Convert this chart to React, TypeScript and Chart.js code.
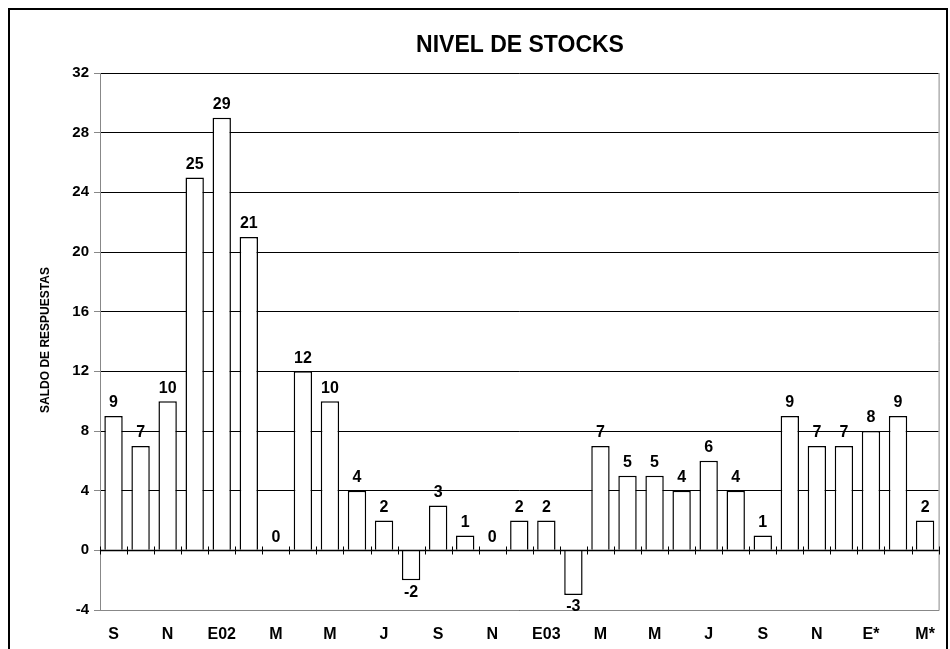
import React, { useEffect, useRef } from "react";
import { Chart, registerables } from "chart.js";
Chart.register(...registerables);

const categories = ["S","O","N","D","E02","F","M","A","M","J","J","A","S","O","N","D","E03","F","M","A","M","J","J","A","S","O","N","D","E*","F","M*"];
const values = [9,7,10,25,29,21,0,12,10,4,2,-2,3,1,0,2,2,-3,7,5,5,4,6,4,1,9,7,7,8,9,2];
const shownLabels = new Set([0,2,4,6,8,10,12,14,16,18,20,22,24,26,28,30]);
const title = "NIVEL DE STOCKS";
const yTitle = "SALDO DE RESPUESTAS";

const F = "Arial, 'Liberation Sans', sans-serif";

const deco = {
  id: "deco",
  afterDraw(chart: any) {
    const { ctx, chartArea: a, scales } = chart;
    const x = scales.x, y = scales.y;
    ctx.save();
    ctx.strokeStyle = "#000"; ctx.lineWidth = 2;
    ctx.beginPath(); ctx.moveTo(9, 660); ctx.lineTo(9, 9); ctx.lineTo(947, 9); ctx.lineTo(947, 660); ctx.stroke();
    ctx.strokeStyle = "#888"; ctx.lineWidth = 1;
    ctx.beginPath(); ctx.moveTo(a.left, a.bottom + 0.5); ctx.lineTo(a.right + 0.5, a.bottom + 0.5); ctx.lineTo(a.right + 0.5, a.top); ctx.stroke();
    const z = Math.round(y.getPixelForValue(0)) + 0.5;
    ctx.strokeStyle = "#000"; ctx.lineWidth = 1.5;
    ctx.beginPath(); ctx.moveTo(a.left, z); ctx.lineTo(a.right, z); ctx.stroke();
    ctx.lineWidth = 1;
    const step = x.getPixelForValue(1) - x.getPixelForValue(0);
    for (let i = 0; i <= categories.length; i++) {
      const px = Math.round(x.getPixelForValue(i) - step / 2) + 0.5;
      ctx.beginPath(); ctx.moveTo(px, z - 4); ctx.lineTo(px, z + 4); ctx.stroke();
    }
    ctx.fillStyle = "#000"; ctx.font = `bold 16px ${F}`; ctx.textAlign = "center";
    values.forEach((v, i) => {
      const px = x.getPixelForValue(i);
      if (v >= 0) { ctx.textBaseline = "bottom"; ctx.fillText(String(v), px, y.getPixelForValue(v) - 5); }
      else { ctx.textBaseline = "top"; ctx.fillText(String(v), px, y.getPixelForValue(v) + 4); }
    });
    ctx.font = `bold 23px ${F}`; ctx.textBaseline = "middle";
    ctx.fillText(title, 520, 46);
    ctx.translate(46, 340); ctx.rotate(-Math.PI / 2);
    ctx.font = `bold 12px ${F}`;
    ctx.fillText(yTitle, 0, 0);
    ctx.restore();
  },
};

export default function App() {
  const ref = useRef<HTMLCanvasElement>(null);
  useEffect(() => {
    const chart = new Chart(ref.current!, {
      type: "bar",
      data: {
        labels: categories,
        datasets: [{ data: values, backgroundColor: "#fff", borderColor: "#000", borderWidth: 1.5, categoryPercentage: 0.68, barPercentage: 1 }],
      },
      options: {
        animation: false, responsive: false, devicePixelRatio: 1,
        layout: { padding: { top: 73, right: 9, left: 0, bottom: 0 } },
        plugins: { legend: { display: false }, tooltip: { enabled: false } },
        scales: {
          x: {
            grid: { display: false, drawTicks: false },
            border: { display: false },
            afterFit: (s: any) => { s.height = 39; },
            ticks: {
              autoSkip: false, maxRotation: 0, padding: 15, color: "#000",
              font: { family: F, size: 16, weight: "bold" },
              callback: (_v: any, i: number) => (shownLabels.has(i) ? categories[i] : ""),
            },
          },
          y: {
            min: -4, max: 32,
            afterFit: (s: any) => { s.width = 100; },
            grid: { color: "#000", lineWidth: 1, drawTicks: true, tickLength: 6, tickColor: "#888" },
            border: { color: "#888" },
            ticks: { stepSize: 4, padding: 5, color: "#000", font: { family: F, size: 15, weight: "bold" } },
          },
        },
      },
      plugins: [deco],
    });
    return () => chart.destroy();
  }, []);
  return (
    <div style={{ position: "absolute", left: 0, top: 0, width: 950, height: 649, background: "#fff" }}>
      <canvas ref={ref} width={950} height={649} />
    </div>
  );
}
